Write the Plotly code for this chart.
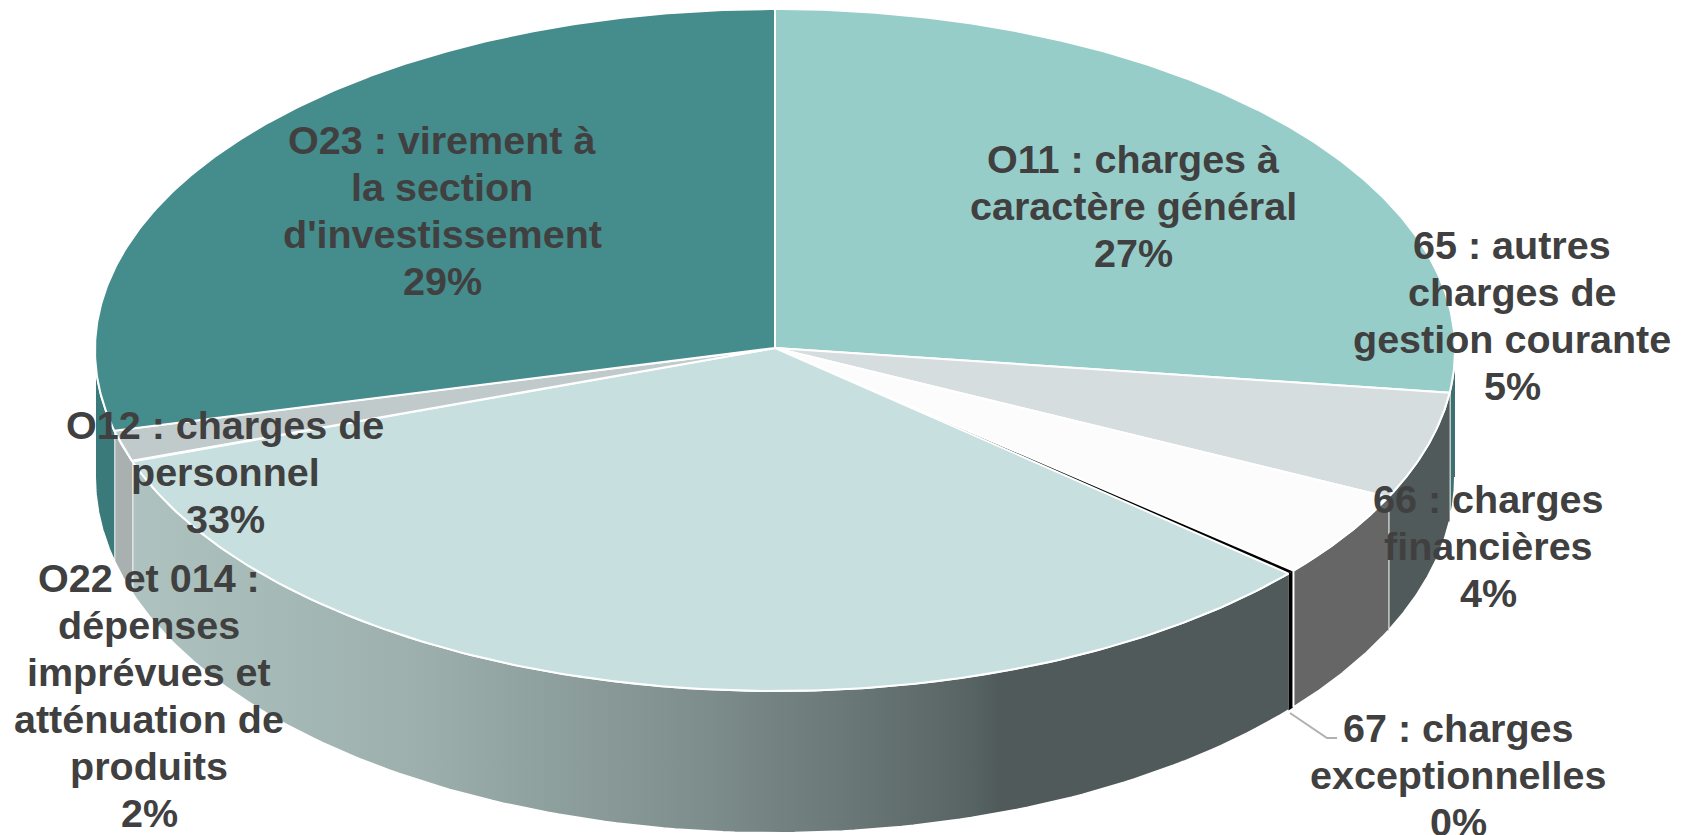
import numpy as np
import plotly.graph_objects as go

# Data (percent of total, clockwise from 12 o'clock)
categories = ["O11 : charges à<br>caractère général",
              "65 : autres<br>charges de<br>gestion courante",
              "66 : charges<br>financières",
              "67 : charges<br>exceptionnelles",
              "O12 : charges de<br>personnel",
              "O22 et 014 :<br>dépenses<br>imprévues et<br>atténuation de<br>produits",
              "O23 : virement à<br>la section<br>d'investissement"]
values = [27.0, 5.1, 4.1, 0.18, 33.32, 1.5, 28.8]

top_colors = ["#97cdc9", "#d5dddf", "#fcfcfc", "#000000", "#c7dfdf", "#c0cacb", "#458c8c"]
wall_colors = ["#3f6f70", "#505a5a", "#666666", "#000000", None, "#a8b0b0", "#3a7a7a"]
label_pos = [(1133, 206), (1512, 315), (1488, 546), (1458, 775), (225, 472), (149, 695), (442, 210)]

# Projection of the pie in the page
CX, CY = 775, 350
APEX_Y = 348
RX, RY = 680, 341
BOT_CY, BOT_RY = 477, 356
LINE_STEP = 47


def rim_x(t):
    return CX + RX * np.sin(t)


def rim_y(t):
    return CY - RY * np.cos(t)


def bot_y(t):
    return BOT_CY - BOT_RY * np.cos(t)


fig = go.Figure()
edges = np.radians(np.concatenate([[0], np.cumsum(values)]) * 3.6)
# the hairline slice is laid first so that its neighbours' outlines trim it
order = sorted(range(len(values)), key=lambda k: values[k] >= 0.5)

# side walls
for i in order:
    a, b = edges[i], edges[i + 1]
    lo, hi = max(a, np.pi / 2), min(b, 3 * np.pi / 2)
    if lo >= hi:
        continue
    t = np.linspace(lo, hi, 120)
    xs = np.concatenate([rim_x(t), rim_x(t[::-1])])
    ys = np.concatenate([rim_y(t), bot_y(t[::-1])])
    style = dict(fillcolor=wall_colors[i])
    if wall_colors[i] is None:
        style = dict(fillgradient=dict(type="horizontal", colorscale=[
            [0, "#aec3c0"], [0.25, "#9cafac"], [0.5, "#7d8d8b"], [0.72, "#596565"],
            [0.75, "#505a5a"], [1, "#505a5a"]]))
    thin = values[i] < 0.5
    fig.add_trace(go.Scatter(x=xs, y=ys, mode="lines", fill="toself",
                             line=dict(color="#000000" if thin else "#ffffff", width=0 if thin else 2),
                             showlegend=False, hoverinfo="skip", **style))

# top faces
for i in order:
    a, b = edges[i], edges[i + 1]
    t = np.linspace(a, b, 240)
    xs = np.concatenate([[CX], rim_x(t), [CX]])
    ys = np.concatenate([[APEX_Y], rim_y(t), [APEX_Y]])
    thin = values[i] < 0.5
    fig.add_trace(go.Scatter(x=xs, y=ys, mode="lines", fill="toself", fillcolor=top_colors[i],
                             line=dict(color="#000000" if thin else "#ffffff", width=0 if thin else 2),
                             showlegend=False, hoverinfo="skip"))

# leader line for the small slice
fig.add_trace(go.Scatter(x=[1290, 1327, 1337], y=[713, 738, 738], mode="lines",
                         line=dict(color="#b0b0b0", width=2), showlegend=False, hoverinfo="skip"))

for name, v, (x, y) in zip(categories, values, label_pos):
    lines = name.split("<br>") + [f"{v:.0f}%"]
    for k, line in enumerate(lines):
        fig.add_annotation(x=x, y=y + (k - (len(lines) - 1) / 2) * LINE_STEP, xref="x", yref="y",
                           showarrow=False, align="center", text=line,
                           font=dict(family="Liberation Sans", size=39.5, color="#404040", weight="bold"))

fig.update_layout(width=1692, height=835, margin=dict(l=0, r=0, t=0, b=0),
                  paper_bgcolor="white", plot_bgcolor="white", hovermode=False,
                  xaxis=dict(range=[0, 1692], visible=False, fixedrange=True),
                  yaxis=dict(range=[835, 0], visible=False, fixedrange=True))

fig.write_html("out.html", config=dict(displayModeBar=False),
               post_script="document.body.style.margin='0';window.dispatchEvent(new Event('resize'));")
